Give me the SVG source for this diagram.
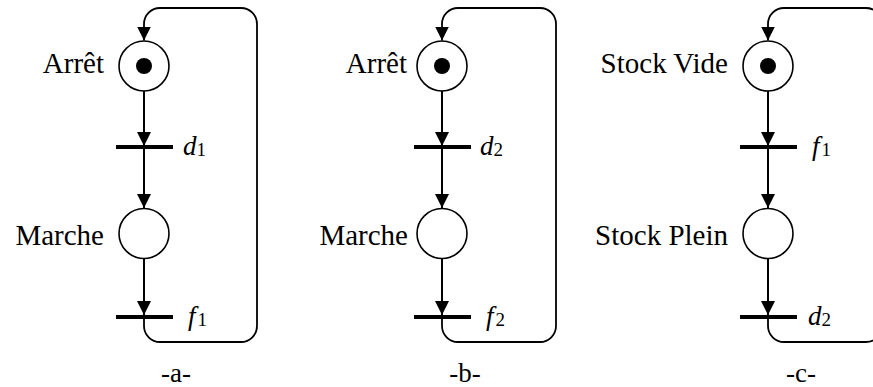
<svg xmlns="http://www.w3.org/2000/svg" width="873" height="387" viewBox="0 0 873 387">
  <style>
    .place { fill: #fff; stroke: #000; stroke-width: 1.6; }
    .token { fill: #000; }
    .bar { stroke: #000; stroke-width: 4; }
    .arc { fill: none; stroke: #000; stroke-width: 2; }
    .loop { fill: none; stroke: #000; stroke-width: 1.8; }
    .name { font-size: 29px; text-anchor: end; }
    .tr { font-size: 27px; font-style: italic; }
    .sub { font-size: 19px; font-style: normal; }
    .cap { font-size: 27px; text-anchor: middle; }
  </style>
  <defs>
    <marker id="arrow" markerUnits="userSpaceOnUse" markerWidth="16" markerHeight="16" viewBox="0 0 16 16" refX="14" refY="8" orient="auto">
      <path d="M0,1 L14,8 L0,15 Z" fill="#000"/>
    </marker>
  </defs>

  <g font-family="Liberation Serif, DejaVu Serif, serif" fill="#000">
  <!-- network a -->
  <g id="a-place-arret">
    <circle class="place" cx="144" cy="66" r="25"/>
    <circle class="token" cx="144" cy="66" r="8"/>
    <text class="name" x="104" y="73">Arrêt</text>
  </g>
  <g id="a-trans-d1">
    <line class="bar" x1="116" y1="147" x2="173" y2="147"/>
    <text class="tr" x="183" y="155">d<tspan class="sub" dy="1">1</tspan></text>
  </g>
  <g id="a-place-marche">
    <circle class="place" cx="144" cy="233.5" r="25"/>
    <text class="name" x="104" y="245">Marche</text>
  </g>
  <g id="a-trans-f1">
    <line class="bar" x1="116" y1="317" x2="173" y2="317"/>
    <text class="tr" x="188" y="325">f<tspan class="sub" dx="2" dy="1">1</tspan></text>
  </g>
  <text class="cap" x="176" y="382">-a-</text>

  <!-- network b -->
  <g id="b-place-arret">
    <circle class="place" cx="442" cy="66" r="25"/>
    <circle class="token" cx="442" cy="66" r="8"/>
    <text class="name" x="407" y="73">Arrêt</text>
  </g>
  <g id="b-trans-d2">
    <line class="bar" x1="414" y1="147" x2="471" y2="147"/>
    <text class="tr" x="480" y="155">d<tspan class="sub" dy="1">2</tspan></text>
  </g>
  <g id="b-place-marche">
    <circle class="place" cx="442" cy="233.5" r="25"/>
    <text class="name" x="408" y="245">Marche</text>
  </g>
  <g id="b-trans-f2">
    <line class="bar" x1="414" y1="317" x2="471" y2="317"/>
    <text class="tr" x="486" y="325">f<tspan class="sub" dx="2" dy="1">2</tspan></text>
  </g>
  <text class="cap" x="465" y="382">-b-</text>

  <!-- network c -->
  <g id="c-place-vide">
    <circle class="place" cx="768" cy="66" r="25"/>
    <circle class="token" cx="768" cy="66" r="8"/>
    <text class="name" x="728" y="73">Stock Vide</text>
  </g>
  <g id="c-trans-f1">
    <line class="bar" x1="740" y1="147" x2="797" y2="147"/>
    <text class="tr" x="812" y="155">f<tspan class="sub" dx="2" dy="1">1</tspan></text>
  </g>
  <g id="c-place-plein">
    <circle class="place" cx="768" cy="233.5" r="25"/>
    <text class="name" x="728" y="245">Stock Plein</text>
  </g>
  <g id="c-trans-d2">
    <line class="bar" x1="740" y1="317" x2="797" y2="317"/>
    <text class="tr" x="808" y="325">d<tspan class="sub" dy="1">2</tspan></text>
  </g>
  <text class="cap" x="801" y="382">-c-</text>
  </g>

  <!-- arcs -->
  <g id="connectors">
    <line class="arc" x1="144" y1="91" x2="144" y2="146" marker-end="url(#arrow)"/>
    <line class="arc" x1="144" y1="147" x2="144" y2="208" marker-end="url(#arrow)"/>
    <line class="arc" x1="144" y1="258.5" x2="144" y2="315" marker-end="url(#arrow)"/>
    <path class="loop" d="M144,317 V326 A16,16 0 0 0 160,342 H241 A16,16 0 0 0 257,326 V24 A16,16 0 0 0 241,8 H160 A16,16 0 0 0 144,24 V40.5" marker-end="url(#arrow)"/>

    <line class="arc" x1="442" y1="91" x2="442" y2="146" marker-end="url(#arrow)"/>
    <line class="arc" x1="442" y1="147" x2="442" y2="208" marker-end="url(#arrow)"/>
    <line class="arc" x1="442" y1="258.5" x2="442" y2="315" marker-end="url(#arrow)"/>
    <path class="loop" d="M442,317 V326 A16,16 0 0 0 458,342 H540 A16,16 0 0 0 556,326 V24 A16,16 0 0 0 540,8 H458 A16,16 0 0 0 442,24 V40.5" marker-end="url(#arrow)"/>

    <line class="arc" x1="768" y1="91" x2="768" y2="146" marker-end="url(#arrow)"/>
    <line class="arc" x1="768" y1="147" x2="768" y2="208" marker-end="url(#arrow)"/>
    <line class="arc" x1="768" y1="258.5" x2="768" y2="315" marker-end="url(#arrow)"/>
    <path class="loop" d="M768,317 V326 A16,16 0 0 0 784,342 H866 A16,16 0 0 0 882,326 V24 A16,16 0 0 0 866,8 H784 A16,16 0 0 0 768,24 V40.5" marker-end="url(#arrow)"/>
  </g>
</svg>
